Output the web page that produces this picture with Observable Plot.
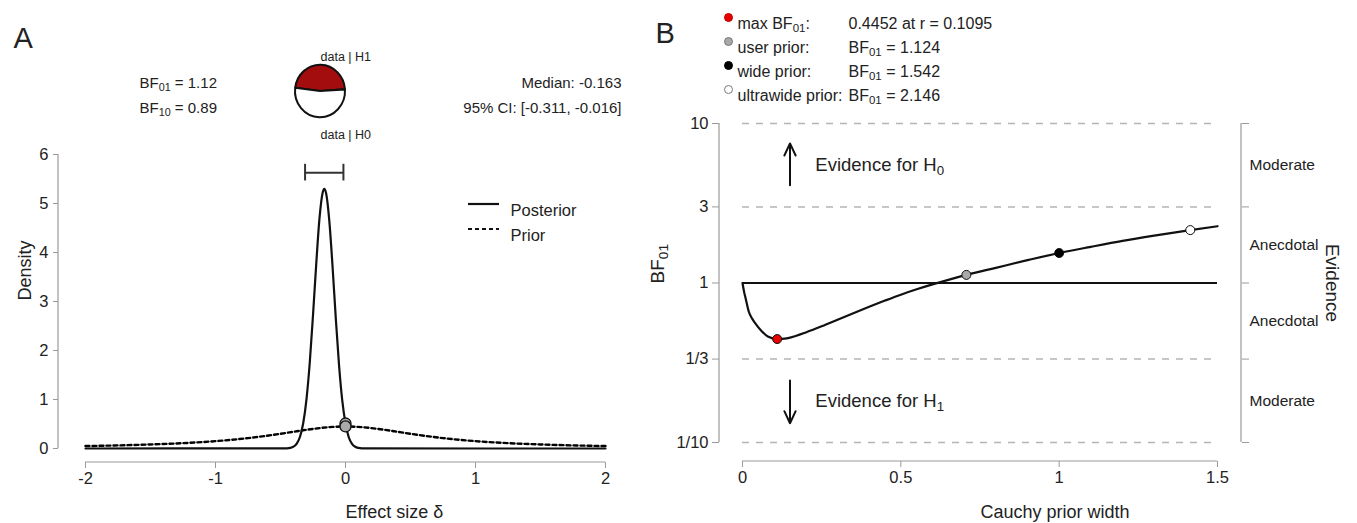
<!DOCTYPE html>
<html><head><meta charset="utf-8">
<script src="https://cdn.jsdelivr.net/npm/d3@7"></script>
<script src="https://cdn.jsdelivr.net/npm/@observablehq/plot@0.6"></script>
<style>
html,body{margin:0;padding:0;background:#fff;}
#wrap{display:flex;width:1357px;height:523px;overflow:hidden;background:#fff;}
#wrap svg{flex:none;}
</style></head><body><div id="wrap"></div>
<script>
// ================= DATA =================
// Panel A: prior / posterior densities of effect size delta
const effectTicks = [-2, -1, 0, 1, 2];
const densityTicks = [0, 1, 2, 3, 4, 5, 6];
const posteriorDelta = [-2, -0.45, -0.425, -0.4, -0.375, -0.35, -0.325, -0.3, -0.275, -0.25, -0.225, -0.2, -0.175, -0.163, -0.15, -0.125, -0.1, -0.075, -0.05, -0.025, 0, 0.025, 0.05, 0.075, 0.1, 0.125, 0.15, 2];
const posteriorDensity = [0, 0.004, 0.012, 0.037, 0.10, 0.24, 0.52, 1.01, 1.75, 2.72, 3.77, 4.70, 5.23, 5.30, 5.22, 4.66, 3.73, 2.67, 1.71, 0.98, 0.51, 0.23, 0.096, 0.035, 0.012, 0.003, 0.001, 0];
const priorDelta = [-2, -1.75, -1.5, -1.25, -1, -0.875, -0.75, -0.625, -0.5, -0.375, -0.25, -0.125, 0, 0.125, 0.25, 0.375, 0.5, 0.625, 0.75, 0.875, 1, 1.25, 1.5, 1.75, 2];
const priorDensity = [0.050, 0.063, 0.082, 0.109, 0.150, 0.178, 0.212, 0.253, 0.300, 0.351, 0.400, 0.436, 0.450, 0.436, 0.400, 0.351, 0.300, 0.253, 0.212, 0.178, 0.150, 0.109, 0.082, 0.063, 0.050];
const pointsAtZero = [{delta: 0, density: 0.51}, {delta: 0, density: 0.45}];
const ciLower = -0.311, ciUpper = -0.016, ciLevel = 5.63, ciCap = 0.17;
const bf01Text = "BF₀₁ = 1.12", bf10Text = "BF₁₀ = 0.89";
const medianText = "Median: -0.163", ciText = "95% CI: [-0.311, -0.016]";
const pieShares = [{label: "data | H1", value: 0.471, color: "#a30d0d"}, {label: "data | H0", value: 0.529, color: "#ffffff"}];
const legendA = [{label: "Posterior", dash: null}, {label: "Prior", dash: "4,3"}];

// Panel B: robustness check
const widthTicks = [0, 0.5, 1, 1.5];
const bfTicks = [1/10, 1/3, 1, 3, 10];
const bfTickLabels = ["1/10", "1/3", "1", "3", "10"];
const evidenceLabels = ["Moderate", "Anecdotal", "Anecdotal", "Moderate"];
const curveR  = [0, 0.005, 0.01, 0.02, 0.03, 0.04, 0.06, 0.08, 0.1095, 0.14, 0.17, 0.2, 0.25, 0.3, 0.35, 0.4, 0.45, 0.5, 0.55, 0.6, 0.65, 0.707, 0.8, 0.9, 1.0, 1.1, 1.2, 1.3, 1.414, 1.5];
const curveBF = [1, 0.88, 0.8, 0.66, 0.6, 0.56, 0.5, 0.462, 0.4452, 0.45, 0.467, 0.49, 0.535, 0.588, 0.647, 0.71, 0.776, 0.845, 0.913, 0.98, 1.047, 1.124, 1.245, 1.39, 1.542, 1.685, 1.835, 1.98, 2.146, 2.27];
const bfPoints = [
  {r: 0.1095, bf: 0.4452, label: "max BF₀₁:", value: "0.4452 at r = 0.1095", fill: "#e60000", key: "#c00000"},
  {r: 0.707, bf: 1.124, label: "user prior:", value: "BF₀₁ = 1.124", fill: "#a8a8a8", key: "#777"},
  {r: 1, bf: 1.542, label: "wide prior:", value: "BF₀₁ = 1.542", fill: "#000000", key: "#000"},
  {r: 1.414, bf: 2.146, label: "ultrawide prior:", value: "BF₀₁ = 2.146", fill: "#ffffff", key: "#777"}
];
const arrowsB = [
  {r: 0.15, from: 4.1, to: 7.5, textR: 0.23, at: 5.48, text: "Evidence for H₀"},
  {r: 0.15, from: 0.245, to: 0.132, textR: 0.23, at: 0.183, text: "Evidence for H₁"}
];

// ================= STYLE =================
const FONT = '"Liberation Sans", Arial, Helvetica, sans-serif';
const INK = "#222";
const AXIS = "#9a9a9a";
const H = 523;

const pxText = (m, str, x, y, opts = {}) =>
  Plot.text([str], {frameAnchor: "top-left", dx: x - m.left, dy: y - m.top, fill: INK, ...opts});

const svgLines = (fn) => (index, scales, values, dims) => {
  const g = d3.create("svg:g");
  for (const l of fn(scales, dims)) {
    const ln = g.append("line").attr("x1", l.x1).attr("x2", l.x2).attr("y1", l.y1).attr("y2", l.y2)
      .attr("stroke", l.stroke || AXIS).attr("stroke-width", l.w || 1.2);
    if (l.dash) ln.attr("stroke-dasharray", l.dash);
  }
  return g.node();
};

// ================= PANEL A =================
const mA = {top: 154, right: 35, bottom: 61, left: 58};
const posterior = posteriorDelta.map((d, i) => ({delta: d, density: posteriorDensity[i]}));
const prior = priorDelta.map((d, i) => ({delta: d, density: priorDensity[i]}));

const plotA = Plot.plot({
  width: 640, height: H,
  marginTop: mA.top, marginRight: mA.right, marginBottom: mA.bottom, marginLeft: mA.left,
  style: {fontFamily: FONT, fontSize: "16.5px", color: INK, background: "white", overflow: "visible"},
  x: {domain: d3.extent(effectTicks), range: [85, 605], label: null},
  y: {domain: d3.extent(densityTicks), range: [448, 154], label: null},
  marks: [
    Plot.axisY({ticks: densityTicks, tickSize: 5, tickPadding: 5, stroke: AXIS, fill: INK, tickFormat: d => String(d), label: null}),
    Plot.axisX({ticks: effectTicks, tickSize: 6, tickPadding: 4, stroke: AXIS, fill: INK, tickFormat: d => String(d), label: null}),
    svgLines((s, d) => [
      {x1: d.marginLeft, x2: d.marginLeft, y1: s.y(densityTicks[0]), y2: s.y(densityTicks[densityTicks.length - 1])},
      {x1: s.x(effectTicks[0]), x2: s.x(effectTicks[effectTicks.length - 1]), y1: d.height - d.marginBottom, y2: d.height - d.marginBottom}
    ]),
    Plot.line(prior, {x: "delta", y: "density", stroke: "#000", strokeWidth: 2.4, strokeDasharray: "4,3", curve: "monotone-x"}),
    Plot.line(posterior, {x: "delta", y: "density", stroke: "#111", strokeWidth: 2.2, curve: "monotone-x"}),
    Plot.ruleY([ciLevel], {x1: ciLower, x2: ciUpper, stroke: "#333", strokeWidth: 2}),
    Plot.ruleX([ciLower, ciUpper], {y1: ciLevel - ciCap, y2: ciLevel + ciCap, stroke: "#333", strokeWidth: 2}),
    Plot.dot(pointsAtZero, {x: "delta", y: "density", r: 5.5, fill: "#aaaaaa", stroke: "#111", strokeWidth: 1.3}),
    svgLines(() => legendA.map((l, i) => ({x1: 468, x2: 499, y1: 204 + i * 25, y2: 204 + i * 25, stroke: "#111", w: 2.2, dash: l.dash}))),
    ...legendA.map((l, i) => pxText(mA, l.label, 510, 204 + i * 25, {textAnchor: "start", fontSize: 16.5})),
    pxText(mA, "A", 13, 27, {textAnchor: "start", fontSize: 29}),
    pxText(mA, bf01Text, 139, 77, {textAnchor: "start", fontSize: 15}),
    pxText(mA, bf10Text, 139, 102, {textAnchor: "start", fontSize: 15}),
    pxText(mA, medianText, 621, 77, {textAnchor: "end", fontSize: 15}),
    pxText(mA, ciText, 621, 102, {textAnchor: "end", fontSize: 15}),
    pxText(mA, pieShares[0].label, 320, 52, {fontSize: 12.5}),
    pxText(mA, pieShares[1].label, 320, 130, {fontSize: 12.5}),
    () => {
      const g = d3.create("svg:g").attr("transform", "translate(320,91) scale(1,1.05)");
      const a0 = -Math.PI * pieShares[0].value + 0.03;
      const pie = d3.pie().sort(null).value(d => d.value).startAngle(a0).endAngle(a0 + 2 * Math.PI);
      const arc = d3.arc().innerRadius(0).outerRadius(25);
      g.selectAll("path").data(pie(pieShares)).join("path")
        .attr("d", arc).attr("fill", d => d.data.color).attr("stroke", "#111").attr("stroke-width", 2).attr("stroke-linejoin", "round");
      return g.node();
    },
    pxText(mA, "Density", 18, 300, {rotate: -90, fontSize: 18}),
    pxText(mA, "Effect size δ", 345, 505, {fontSize: 18})
  ]
});

// ================= PANEL B =================
const mB = {top: 123, right: 116, bottom: 62, left: 79};
const curve = curveR.map((r, i) => ({r, bf: curveBF[i]}));
const bands = evidenceLabels.map((label, i) => ({label, mid: Math.sqrt(bfTicks[i] * bfTicks[i + 1])}));
const dashed = bfTicks.filter(t => t !== 1);
const rMin = widthTicks[0], rMax = widthTicks[widthTicks.length - 1];

const plotB = Plot.plot({
  width: 717, height: H,
  marginTop: mB.top, marginRight: mB.right, marginBottom: mB.bottom, marginLeft: mB.left,
  style: {fontFamily: FONT, fontSize: "16.5px", color: INK, background: "white", overflow: "visible"},
  x: {domain: [rMin, rMax], range: [102, 577], label: null},
  y: {type: "log", domain: [bfTicks[0], bfTicks[bfTicks.length - 1]], range: [442, 123], label: null},
  marks: [
    Plot.axisY({ticks: bfTicks, tickSize: 7, tickPadding: 4, stroke: AXIS, fill: INK, tickFormat: d => bfTickLabels[bfTicks.indexOf(d)], label: null}),
    Plot.axisY({anchor: "right", ticks: bfTicks, tickSize: 7, stroke: AXIS, tickFormat: () => "", label: null}),
    Plot.axisX({ticks: widthTicks, tickSize: 6, tickPadding: 4, stroke: AXIS, fill: INK, tickFormat: d => String(d), label: null}),
    svgLines((s, d) => [
      {x1: d.marginLeft, x2: d.marginLeft, y1: s.y(bfTicks[0]), y2: s.y(bfTicks[bfTicks.length - 1])},
      {x1: d.width - d.marginRight, x2: d.width - d.marginRight, y1: s.y(bfTicks[0]), y2: s.y(bfTicks[bfTicks.length - 1])},
      {x1: s.x(rMin), x2: s.x(rMax), y1: d.height - d.marginBottom, y2: d.height - d.marginBottom}
    ]),
    Plot.ruleY(dashed, {x1: rMin, x2: rMax, stroke: "#b5b5b5", strokeWidth: 1.5, strokeDasharray: "7,7"}),
    Plot.ruleY([1], {x1: rMin, x2: rMax, stroke: "#111", strokeWidth: 1.8}),
    Plot.line(curve, {x: "r", y: "bf", stroke: "#111", strokeWidth: 2.2, curve: "monotone-x"}),
    Plot.dot(bfPoints, {x: "r", y: "bf", r: 4.5, fill: "fill", stroke: "#111", strokeWidth: 1}),
    Plot.arrow(arrowsB, {x1: "r", x2: "r", y1: "from", y2: "to", stroke: "#111", strokeWidth: 2, headLength: 10, headAngle: 50}),
    Plot.text(arrowsB, {x: "textR", y: "at", text: "text", textAnchor: "start", fontSize: 18.5, fill: INK}),
    Plot.text(bands, {y: "mid", text: "label", frameAnchor: "right", dx: 8, textAnchor: "start", fontSize: 15.5, fill: INK}),
    Plot.text(["Evidence"], {y: [Math.sqrt(bfTicks[0] * bfTicks[bfTicks.length - 1])], frameAnchor: "right", dx: 91, rotate: 90, textAnchor: "middle", fontSize: 19, fill: INK}),
    pxText(mB, "BF₀₁", 10, 283, {rotate: -90, fontSize: 19}),
    pxText(mB, "Cauchy prior width", 340, 505, {fontSize: 18}),
    pxText(mB, "B", 15, 22, {textAnchor: "start", fontSize: 29}),
    ...bfPoints.flatMap((p, i) => [
      Plot.dot([p], {frameAnchor: "top-left", dx: 88 - mB.left, dy: 17 + i * 24 - mB.top, r: 4, fill: p.fill, stroke: p.key, strokeWidth: 1}),
      pxText(mB, p.label, 97, 17 + i * 24, {textAnchor: "start", fontSize: 16}),
      pxText(mB, p.value, 208, 17 + i * 24, {textAnchor: "start", fontSize: 16})
    ])
  ]
});

// turn unicode subscript digits into real lowered, smaller text runs
const SUB = "₀₁₂₃₄₅₆₇₈₉";
function fixSubscripts(svg) {
  svg.querySelectorAll("text").forEach(t => {
    if (t.querySelector("tspan")) {
      t.querySelectorAll("tspan").forEach(ts => rebuild(ts));
    } else rebuild(t);
  });
  function rebuild(el) {
    const s = el.textContent;
    if (![...s].some(c => SUB.includes(c))) return;
    const runs = [];
    for (const c of s) {
      const sub = SUB.includes(c);
      const ch = sub ? String(SUB.indexOf(c)) : c;
      if (runs.length && runs[runs.length - 1].sub === sub) runs[runs.length - 1].txt += ch;
      else runs.push({sub, txt: ch});
    }
    el.textContent = "";
    let lowered = false;
    for (const r of runs) {
      const ts = document.createElementNS("http://www.w3.org/2000/svg", "tspan");
      ts.textContent = r.txt;
      if (r.sub) { ts.setAttribute("font-size", "72%"); ts.setAttribute("dy", "0.3em"); lowered = true; }
      else if (lowered) { ts.setAttribute("dy", "-0.22em"); lowered = false; }
      el.appendChild(ts);
    }
  }
}
fixSubscripts(plotA); fixSubscripts(plotB);

document.getElementById("wrap").append(plotA, plotB);
</script></body></html>
